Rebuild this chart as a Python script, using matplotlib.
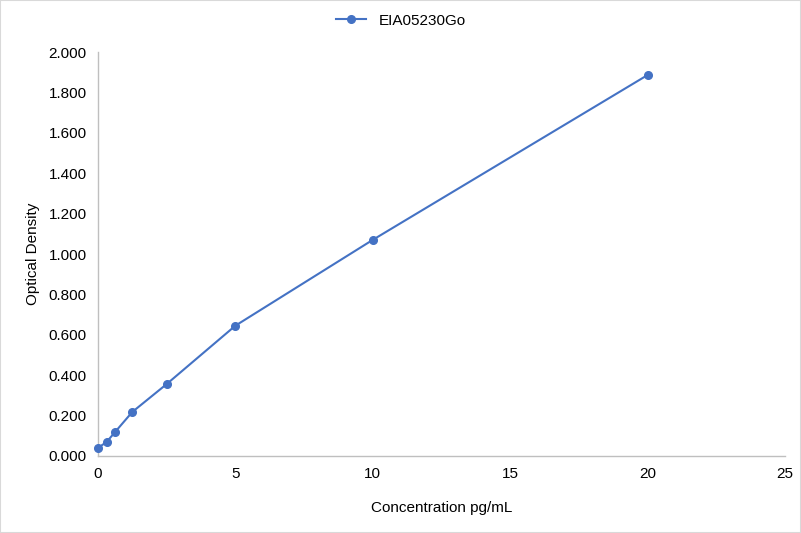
import matplotlib
matplotlib.use("Agg")
import matplotlib.pyplot as plt
from matplotlib.patches import Rectangle

conc = [0, 0.3125, 0.625, 1.25, 2.5, 5, 10, 20]
od = [0.040, 0.069, 0.119, 0.218, 0.356, 0.645, 1.070, 1.886]
series_name = "EIA05230Go"
xticks = [0, 5, 10, 15, 20, 25]
yticks = [0.0, 0.2, 0.4, 0.6, 0.8, 1.0, 1.2, 1.4, 1.6, 1.8, 2.0]

plt.rcParams['font.family'] = ['Liberation Sans', 'DejaVu Sans']
fig = plt.figure(figsize=(8.01, 5.33), dpi=100)
ax = fig.add_axes([0.1223, 0.1445, 0.8577, 0.7579])
color = '#4472C4'
ax.plot(conc, od, color=color, lw=1.5, marker='o', ms=5.5, label=series_name, clip_on=False, zorder=3)
ax.set_xlim(0, 25)
ax.set_ylim(0, 2.0)
ax.set_xticks(xticks)
ax.set_yticks(yticks)
ax.set_yticklabels([f"{v:.3f}" for v in yticks])
ax.tick_params(length=0, labelsize=11, colors='#000000', pad=8)
for s in ['top', 'right']:
    ax.spines[s].set_visible(False)
for s in ['left', 'bottom']:
    ax.spines[s].set_color('#BFBFBF')
    ax.spines[s].set_linewidth(1)
ax.set_xlabel("Concentration pg/mL", fontsize=11, labelpad=14)
ax.set_ylabel("Optical Density", fontsize=11, labelpad=6)
fig.legend(loc='upper center', bbox_to_anchor=(0.5, 1.0), frameon=False, fontsize=11, handlelength=2)
fig.patches.append(Rectangle((0, 0), 1, 1, transform=fig.transFigure, fill=False, edgecolor='#D9D9D9', lw=1.5))
fig.savefig("out.png", dpi=100)
